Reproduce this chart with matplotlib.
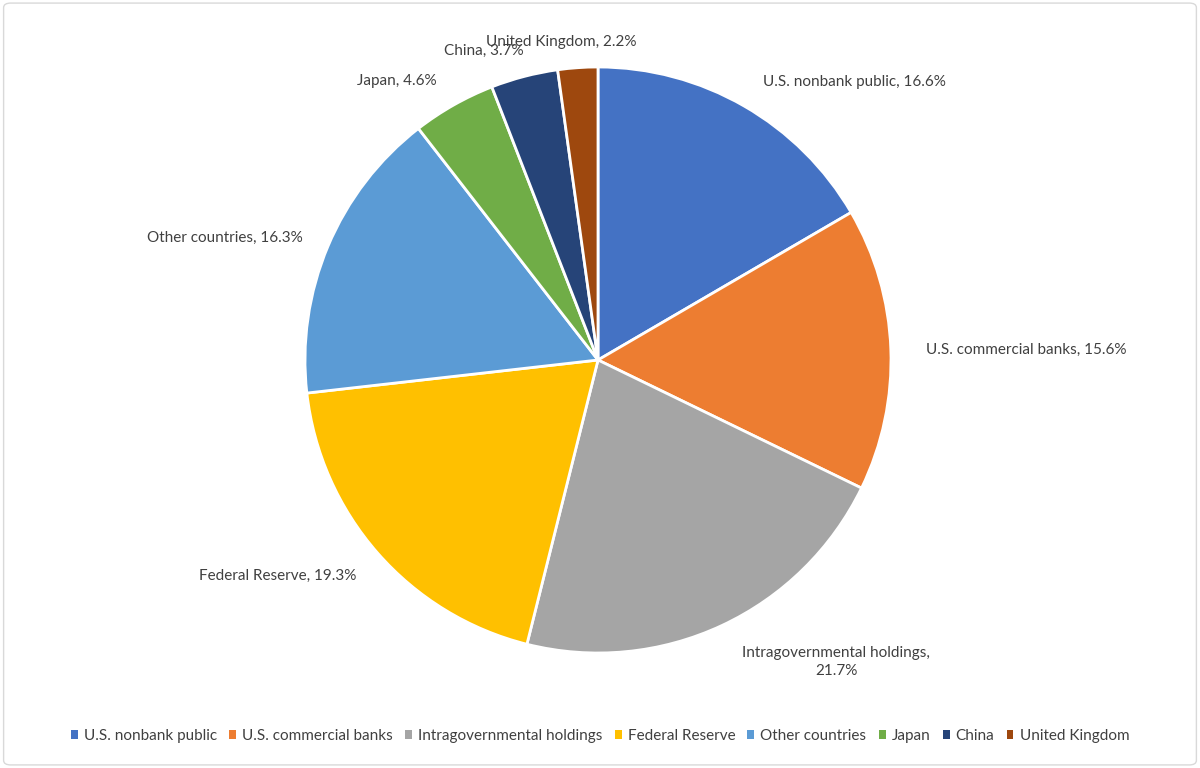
import matplotlib.pyplot as plt
from matplotlib.patches import FancyBboxPatch, Patch

holders = ['U.S. nonbank public', 'U.S. commercial banks', 'Intragovernmental holdings',
           'Federal Reserve', 'Other countries', 'Japan', 'China', 'United Kingdom']
shares = [16.6, 15.6, 21.7, 19.3, 16.3, 4.6, 3.7, 2.2]
colors = ['#4472C4', '#ED7D31', '#A5A5A5', '#FFC000', '#5B9BD5', '#70AD47', '#264478', '#9E480E']

plt.rcParams['font.family'] = ['Lato', 'DejaVu Sans']

fig = plt.figure(figsize=(12, 7.68), dpi=100)
ax = fig.add_axes([0, 0, 1, 1])

# frame around the chart area
fig.patches.append(FancyBboxPatch((0.003, 0.004), 0.994, 0.992, boxstyle='round,pad=0,rounding_size=0.006',
                                  transform=fig.transFigure, fill=False, edgecolor='#d9d9d9', linewidth=1))

wedges, texts = ax.pie(shares, colors=colors, startangle=90, counterclock=False,
                       center=(598, 408), radius=293,
                       labels=[f'{h}, {s}%' for h, s in zip(holders, shares)],
                       wedgeprops=dict(edgecolor='white', linewidth=2),
                       textprops=dict(fontsize=11, color='#404040'))
ax.set_xlim(0, 1200)
ax.set_ylim(0, 768)
ax.set_aspect('equal')
ax.axis('off')

# data label placement (pixel-style coords, y measured from top)
label_pos = [(854, 82), (1026, 350), (836, 662), (278, 576),
             (225, 238), (397, 81), (484, 51), (561, 42)]
for t, (x, y) in zip(texts, label_pos):
    t.set_position((x, 768 - y))
    t.set_ha('center')
    t.set_va('center')
texts[2].set_text('Intragovernmental holdings,\n21.7%')
texts[2].set_multialignment('center')
texts[2].set_linespacing(1.35)

handles = [Patch(facecolor=c, edgecolor='none') for c in colors]
ax.legend(handles, holders, loc='center', bbox_to_anchor=(0.5, (768 - 736) / 768),
          ncol=8, frameon=False, fontsize=11, handlelength=0.45, handleheight=0.45,
          handletextpad=0.4, columnspacing=0.8, labelcolor='#404040')

fig.savefig('out.png', dpi=100)
